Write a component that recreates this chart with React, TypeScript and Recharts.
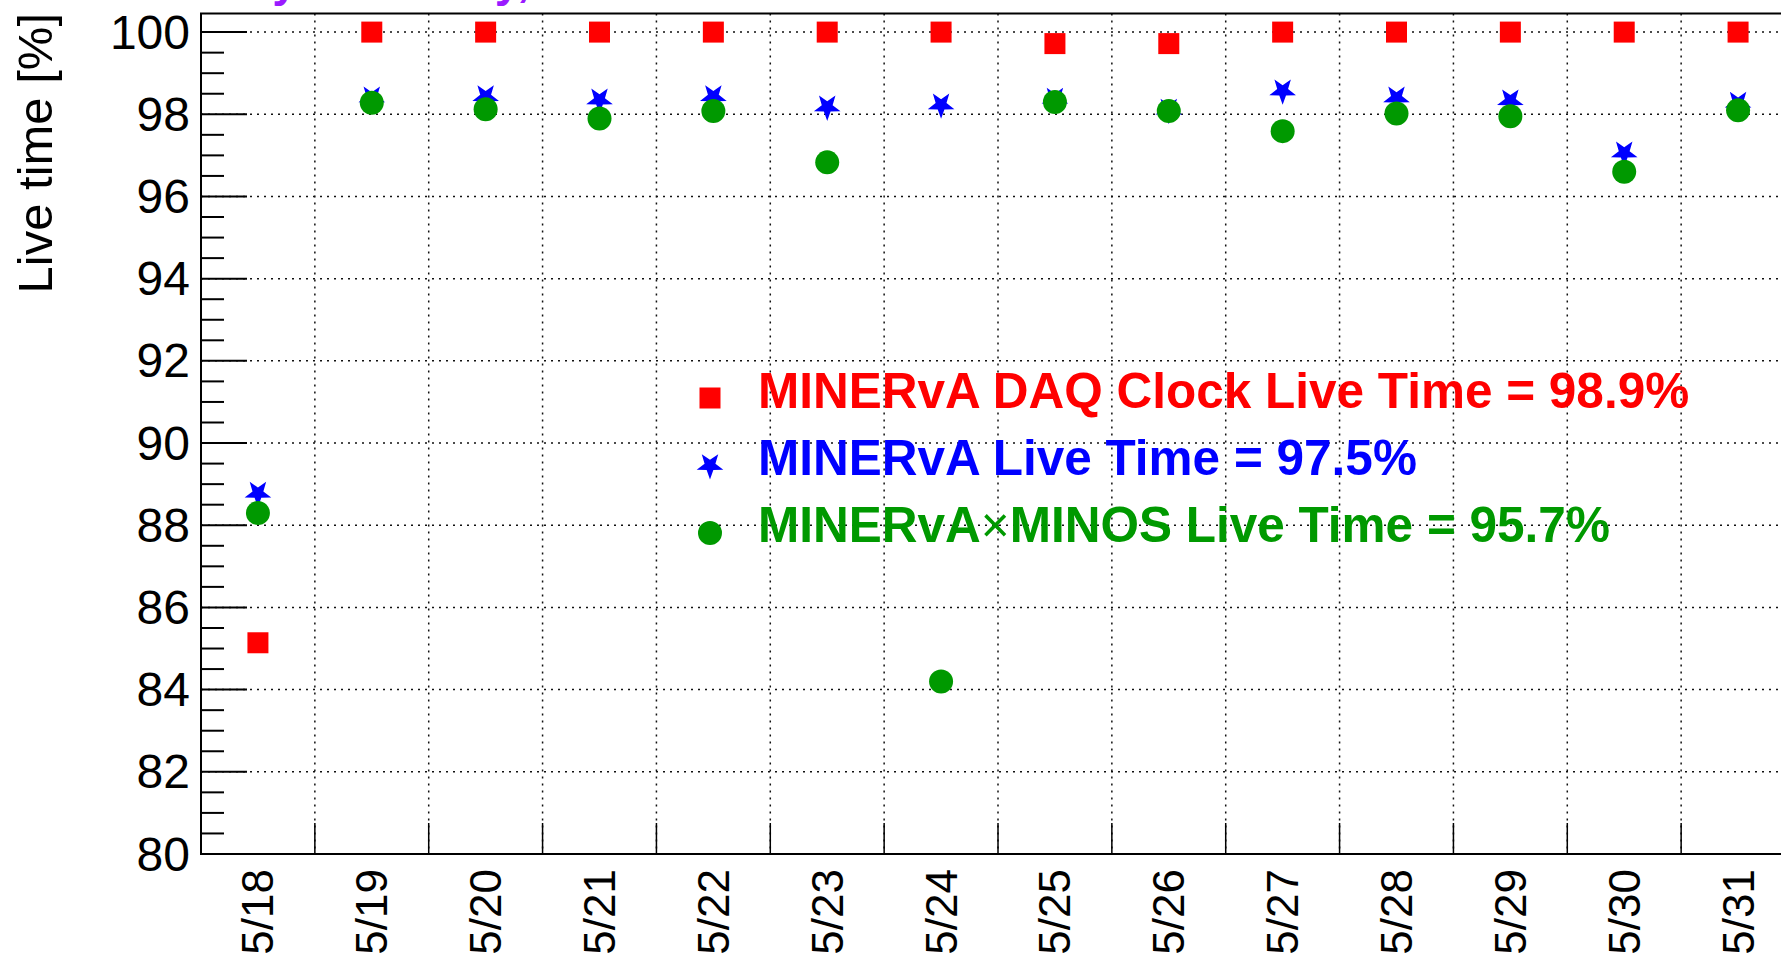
import React from "react";
import { ScatterChart, Scatter, XAxis, YAxis, CartesianGrid, ReferenceArea, Legend } from "recharts";

const dates = ["5/18", "5/19", "5/20", "5/21", "5/22", "5/23", "5/24", "5/25", "5/26", "5/27", "5/28", "5/29", "5/30", "5/31"];
const daqClockLive = [85.14, 100, 100, 100, 100, 100, 100, 99.72, 99.72, 100, 100, 100, 100, 100];
const minervaLive = [88.78, 98.4, 98.43, 98.35, 98.43, 98.18, 98.23, 98.37, 98.1, 98.57, 98.4, 98.33, 97.06, 98.27];
const minervaMinosLive = [88.3, 98.28, 98.12, 97.9, 98.08, 96.83, 84.2, 98.3, 98.08, 97.59, 98.02, 97.95, 96.6, 98.1];

const yMajorTicks = [80, 82, 84, 86, 88, 90, 92, 94, 96, 98, 100];
const legendItems = [
  { name: "MINERvA DAQ Clock Live Time = 98.9%", color: "#ff0000", marker: "square" },
  { name: "MINERvA Live Time = 97.5%", color: "#0000ff", marker: "star" },
  { name: "MINERvA×MINOS Live Time = 95.7%", color: "#009900", marker: "circle" },
];
const titleText = "Daily Summary, 2012";

const W = 1781;
const H = 957;
const CHART_W = 1812;
const PLOT_LEFT = 201;
const PLOT_RIGHT = 1795;
const PLOT_TOP = 13.6;
const PLOT_BOTTOM = 854;
const Y_MIN = 80;
const Y_MAX = 100.45;
const FONT = "'Liberation Sans', Arial, Helvetica, sans-serif";

const toPoints = (vals: number[]) => vals.map((v, i) => ({ x: i + 0.5, y: v, date: dates[i] }));
const xTicks = Array.from({ length: dates.length * 2 + 1 }, (_, k) => k / 2);
const yTicks = Array.from({ length: 41 }, (_, k) => Y_MIN + k * 0.5);
const binEdges = Array.from({ length: dates.length - 1 }, (_, k) => k + 1);

const starPoints = (cx: number, cy: number, R: number, r: number) => {
  const pts: string[] = [];
  for (let k = 0; k < 10; k++) {
    const a = Math.PI / 2 + (k * Math.PI) / 5;
    const rad = k % 2 === 0 ? R : r;
    pts.push(`${cx + rad * Math.cos(a)},${cy + rad * Math.sin(a)}`);
  }
  return pts.join(" ");
};

const Marker = ({ cx, cy, kind, color }: any) => {
  if (kind === "square") return <rect x={cx - 10.5} y={cy - 10.5} width={21} height={21} fill={color} />;
  if (kind === "star") return <polygon points={starPoints(cx, cy, 14, 5.7)} fill={color} />;
  return <circle cx={cx} cy={cy} r={12} fill={color} />;
};

const YTick = (props: any) => {
  const { y, payload } = props;
  const v = payload.value;
  const major = Math.abs(v % 2) < 1e-6;
  return (
    <g>
      <line x1={PLOT_LEFT} x2={PLOT_LEFT + (major ? 46 : 23)} y1={y} y2={y} stroke="#000" strokeWidth={2} />
      {major && (
        <text x={190} y={y} textAnchor="end" dominantBaseline="central" fontSize={48} fontFamily={FONT} fill="#000">
          {v}
        </text>
      )}
    </g>
  );
};

const XTick = (props: any) => {
  const { x, payload } = props;
  const v = payload.value;
  if (Number.isInteger(v)) {
    if (v === 0 || v === dates.length) return <g />;
    return <line x1={x} x2={x} y1={PLOT_BOTTOM} y2={PLOT_BOTTOM - 31} stroke="#000" strokeWidth={1.5} />;
  }
  return (
    <text
      transform={`translate(${x},${PLOT_BOTTOM + 15}) rotate(-90)`}
      textAnchor="end"
      dominantBaseline="central"
      fontSize={44}
      fontFamily={FONT}
      fill="#000"
    >
      {dates[Math.floor(v)]}
    </text>
  );
};

const LegendBox = () => (
  <svg width={1080} height={210} style={{ overflow: "visible" }}>
    {legendItems.map((item, i) => (
      <g key={item.name}>
        <Marker cx={20} cy={38 + i * 67.5} kind={item.marker} color={item.color} />
        <text x={68} y={48 + i * 67} fontSize={49.5} fontWeight="bold" fontFamily={FONT} fill={item.color}>
          {item.name.includes("×") ? (
            <>
              {item.name.split("×")[0]}
              <tspan fontWeight="normal">×</tspan>
              {item.name.split("×")[1]}
            </>
          ) : (
            item.name
          )}
        </text>
      </g>
    ))}
  </svg>
);

export default function App() {
  return (
    <div style={{ position: "absolute", left: 0, top: 0, width: W, height: H, overflow: "hidden", background: "#fff" }}>
      {/* title sits above the page edge, only its descenders show, as in the reference */}
      <svg width={W} height={20} style={{ position: "absolute", left: 0, top: 0, zIndex: 2 }}>
        <text x={188} y={-4} fontSize={46} fontWeight="bold" fontFamily={FONT} fill="#9a1aff">
          {titleText}
        </text>
      </svg>
      <ScatterChart width={CHART_W} height={H} margin={{ top: PLOT_TOP, right: CHART_W - PLOT_RIGHT, bottom: 0, left: 0 }}>
        <CartesianGrid
          stroke="#111"
          strokeWidth={1.5}
          strokeDasharray="2 5"
          verticalPoints={binEdges.map((e) => PLOT_LEFT + ((PLOT_RIGHT - PLOT_LEFT) * e) / dates.length)}
          horizontalPoints={yMajorTicks
            .filter((v) => v > Y_MIN)
            .map((v) => PLOT_TOP + ((PLOT_BOTTOM - PLOT_TOP) * (Y_MAX - v)) / (Y_MAX - Y_MIN))}
        />
        <XAxis
          type="number"
          dataKey="x"
          domain={[0, dates.length]}
          ticks={xTicks}
          interval={0}
          height={H - PLOT_BOTTOM}
          tick={<XTick />}
          tickLine={false}
          axisLine={false}
          allowDataOverflow
        />
        <YAxis
          type="number"
          dataKey="y"
          domain={[Y_MIN, Y_MAX]}
          ticks={yTicks}
          interval={0}
          width={PLOT_LEFT}
          tick={<YTick />}
          tickLine={false}
          axisLine={false}
          allowDataOverflow
          label={{
            content: () => (
              <text
                transform="translate(52,13) rotate(-90)"
                textAnchor="end"
                fontSize={49}
                fontFamily={FONT}
                fill="#000"
              >
                Live time [%]
              </text>
            ),
          }}
        />
        <ReferenceArea x1={0} x2={dates.length} y1={Y_MIN} y2={Y_MAX} fill="none" stroke="#000" strokeWidth={2} ifOverflow="visible" />
        <Legend
          layout="vertical"
          align="center"
          verticalAlign="middle"
          content={<LegendBox />}
          wrapperStyle={{ left: 690, top: 360, width: 1080, height: 210 }}
        />
        <Scatter
          name={legendItems[0].name}
          data={toPoints(daqClockLive)}
          isAnimationActive={false}
          shape={(p: any) => <Marker cx={p.cx} cy={p.cy} kind="square" color="#ff0000" />}
        />
        <Scatter
          name={legendItems[1].name}
          data={toPoints(minervaLive)}
          isAnimationActive={false}
          shape={(p: any) => <Marker cx={p.cx} cy={p.cy} kind="star" color="#0000ff" />}
        />
        <Scatter
          name={legendItems[2].name}
          data={toPoints(minervaMinosLive)}
          isAnimationActive={false}
          shape={(p: any) => <Marker cx={p.cx} cy={p.cy} kind="circle" color="#009900" />}
        />
      </ScatterChart>
    </div>
  );
}
